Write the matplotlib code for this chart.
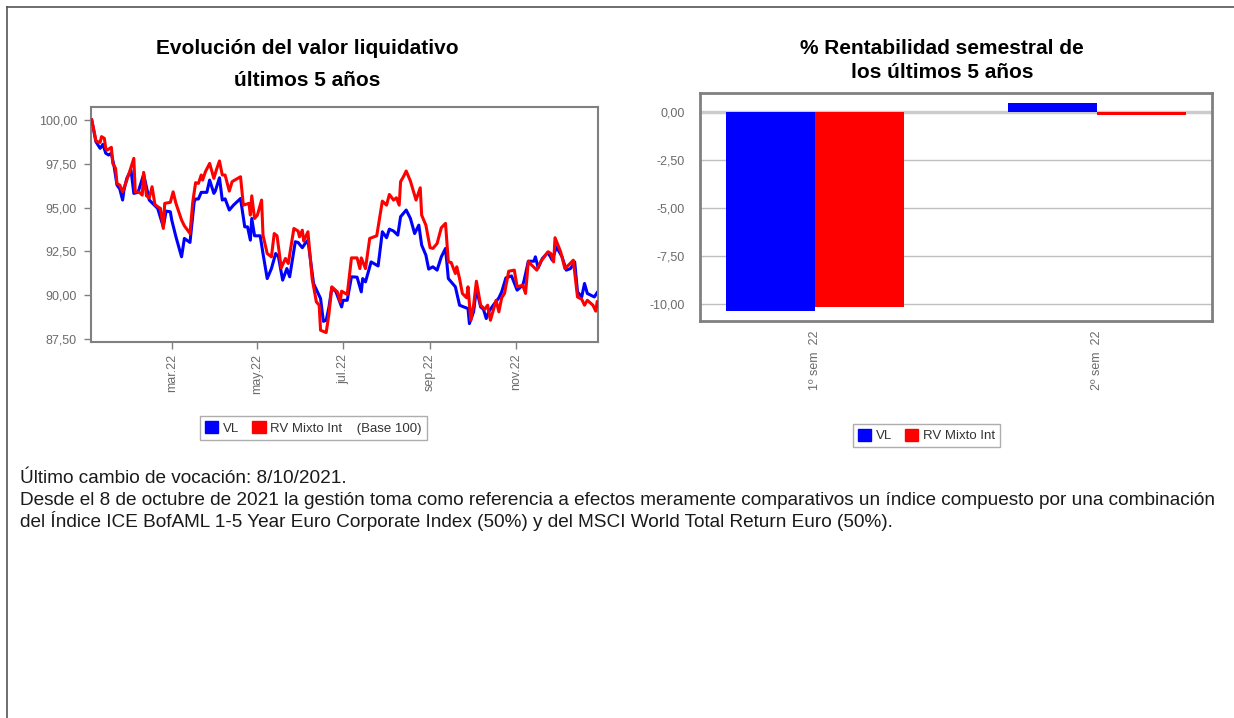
import matplotlib
matplotlib.use('Agg')
import matplotlib.pyplot as plt
from matplotlib.patches import Patch
import pandas as pd

plt.rcParams['font.family'] = ['Liberation Sans', 'DejaVu Sans']

# Evolución del valor liquidativo (base 100), días desde 1/1/2022
vl_days = [2, 5, 8, 10, 12, 14, 16, 18, 20, 22, 24, 25, 27, 30, 32, 35, 39, 43, 49, 53,
           55, 58, 59, 62, 64, 66, 68, 72, 75, 76, 78, 80, 84, 86, 89, 90, 93, 95, 97, 100,
           103, 108, 111, 113, 115, 116, 118, 122, 124, 127, 130, 133, 135, 138, 141, 143, 147, 149, 152, 154,
           156, 160, 165, 167, 169, 171, 173, 176, 180, 181, 184, 187, 191, 194, 195, 197, 201, 206, 209, 212,
           214, 217, 220, 222, 226, 229, 232, 235, 237, 240, 242, 245, 248, 251, 254, 256, 258, 261, 264, 267,
           270, 271, 274, 276, 279, 281, 283, 285, 288, 292, 294, 297, 301, 305, 309, 310, 313, 317, 318, 320,
           323, 327, 330, 333, 337, 340, 343, 346, 348, 351, 353, 355, 360, 362]
vl_vals = [100.0, 98.76, 98.38, 98.61, 98.1, 98.0, 98.1, 97.33, 96.29, 96.06, 95.43, 96.0, 96.67, 97.14, 95.81, 95.87, 96.9, 95.43, 94.95, 93.9,
           94.8, 94.76, 94.29, 93.33, 92.76, 92.19, 93.24, 93.01, 95.33, 95.49, 95.49, 95.87, 95.87, 96.57, 95.81, 95.94, 96.7, 95.43, 95.5, 94.86,
           95.14, 95.52, 93.9, 93.9, 93.14, 94.38, 93.39, 93.39, 92.38, 90.95, 91.52, 92.38, 92.19, 90.86, 91.52, 91.05, 93.05, 93.01, 92.71, 92.95,
           93.14, 90.67, 89.81, 88.51, 88.57, 89.33, 90.42, 90.19, 89.33, 89.71, 89.71, 91.05, 91.03, 90.19, 90.95, 90.76, 91.9, 91.67, 93.62, 93.28,
           93.77, 93.66, 93.43, 94.48, 94.86, 94.38, 93.52, 94.0, 92.86, 92.29, 91.49, 91.62, 91.43, 92.19, 92.67, 90.95, 90.76, 90.48, 89.43, 89.33,
           89.24, 88.38, 89.05, 90.38, 89.33, 89.2, 88.67, 89.09, 89.43, 89.85, 90.19, 90.99, 91.1, 90.29, 90.57, 90.86, 91.94, 91.94, 92.19, 91.56,
           92.1, 92.44, 92.0, 92.76, 92.19, 91.43, 91.52, 91.9, 90.19, 89.9, 90.67, 90.1, 89.9, 90.15]

rv_days = [2, 4, 5, 8, 9, 11, 12, 13, 16, 17, 19, 20, 22, 24, 27, 29, 32, 33, 36, 38,
           39, 41, 43, 45, 47, 49, 51, 53, 54, 58, 60, 62, 66, 68, 72, 74, 76, 78, 80, 81,
           83, 86, 89, 91, 93, 95, 97, 100, 102, 108, 110, 114, 115, 116, 118, 120, 123, 124, 127, 130,
           132, 134, 137, 140, 142, 146, 149, 150, 152, 153, 156, 159, 162, 164, 165, 169, 171, 173, 177, 179,
           180, 184, 187, 191, 193, 194, 197, 200, 205, 209, 212, 214, 217, 219, 221, 222, 224, 226, 229, 233,
           236, 237, 240, 243, 245, 248, 251, 254, 256, 258, 261, 262, 264, 266, 269, 270, 272, 274, 276, 279,
           282, 284, 286, 290, 292, 294, 296, 299, 303, 305, 309, 311, 313, 315, 319, 322, 327, 329, 331, 332,
           336, 339, 342, 345, 348, 351, 353, 355, 359, 361, 362]
rv_vals = [100.0, 99.24, 98.8, 98.72, 99.05, 98.95, 98.38, 98.28, 98.44, 97.52, 97.24, 96.38, 96.28, 95.9, 96.57, 97.05, 97.81, 95.9, 95.87, 95.71,
           97.01, 95.67, 95.56, 96.19, 95.18, 95.05, 94.95, 93.81, 95.24, 95.3, 95.9, 95.24, 94.29, 93.96, 93.52, 95.33, 96.42, 96.38, 96.86, 96.57,
           97.05, 97.52, 96.67, 97.2, 97.66, 96.86, 96.86, 95.94, 96.48, 96.76, 95.14, 95.24, 94.57, 95.67, 94.38, 94.57, 95.43, 93.43, 92.38, 92.19,
           93.52, 93.39, 91.56, 92.1, 91.81, 93.81, 93.66, 93.33, 93.71, 93.09, 93.62, 90.95, 89.62, 89.43, 88.0, 87.87, 88.95, 90.48, 90.19, 89.62,
           90.23, 90.04, 92.13, 92.13, 91.52, 92.13, 91.52, 93.24, 93.39, 95.37, 95.14, 95.75, 95.43, 95.56, 95.14, 96.48, 96.76, 97.09, 96.51, 95.43,
           96.13, 94.57, 94.0, 92.71, 92.67, 92.95, 93.85, 94.1, 91.9, 91.87, 91.24, 91.62, 90.95, 90.1, 89.85, 90.48, 88.57, 89.43, 90.8, 89.43,
           89.2, 89.43, 88.57, 89.71, 89.05, 89.85, 90.1, 91.37, 91.43, 90.48, 90.57, 90.1, 91.94, 91.75, 91.43, 91.94, 92.48, 92.38, 91.9, 93.28,
           92.48, 91.52, 91.75, 92.0, 89.9, 89.77, 89.43, 89.71, 89.43, 89.09, 89.62]

y_ticks_left = [87.5, 90.0, 92.5, 95.0, 97.5, 100.0]
month_ticks = ['2022-03-01', '2022-05-01', '2022-07-01', '2022-09-01', '2022-11-01']
month_labels = ['mar.22', 'may.22', 'jul.22', 'sep.22', 'nov.22']

# % Rentabilidad semestral
semesters = ['1º sem  22', '2º sem  22']
sem_vl = [-10.33, 0.50]
sem_rv = [-10.12, -0.12]
y_ticks_right = [0.0, -2.5, -5.0, -7.5, -10.0]

notes = [
    'Último cambio de vocación: 8/10/2021.',
    'Desde el 8 de octubre de 2021 la gestión toma como referencia a efectos meramente comparativos un índice compuesto por una combinación',
    'del Índice ICE BofAML 1-5 Year Euro Corporate Index (50%) y del MSCI World Total Return Euro (50%).',
]

BLUE = '#0000ff'
RED = '#ff0000'
GREY = '#808080'
LABEL = '#6b6b6b'

W, H = 1234, 718
fig = plt.figure(figsize=(W / 100, H / 100), dpi=100)


def fx(px):
    return px / W


def fy(py):
    return 1 - py / H


def fmt(v):
    return f'{v:.2f}'.replace('.', ',')


# outer frame (top and left)
fig.add_artist(plt.Line2D([fx(6.5), fx(6.5)], [0, fy(6.5)], color='#555555', lw=1.2))
fig.add_artist(plt.Line2D([fx(6.5), 1], [fy(6.5), fy(6.5)], color='#555555', lw=1.2))

# ---- left chart ----
start = pd.Timestamp('2022-01-01')
vl_dates = start + pd.to_timedelta(vl_days, unit='D')
rv_dates = start + pd.to_timedelta(rv_days, unit='D')

ax1 = fig.add_axes([fx(91), fy(342), fx(598 - 91), (342 - 107) / H])
ax1.plot(vl_dates, vl_vals, color=BLUE, lw=2.2, zorder=2)
ax1.plot(rv_dates, rv_vals, color=RED, lw=2.2, zorder=3)
ax1.set_xlim(start + pd.Timedelta(days=1.5), start + pd.Timedelta(days=362.6))
ax1.set_ylim(87.33, 100.74)
ax1.set_yticks(y_ticks_left)
ax1.set_yticklabels([fmt(v) for v in y_ticks_left])
ax1.set_xticks(pd.to_datetime(month_ticks))
ax1.set_xticklabels(month_labels, rotation=90)
for s in ax1.spines.values():
    s.set_color(GREY)
    s.set_linewidth(1.5)
ax1.tick_params(colors=GREY, labelcolor=LABEL, labelsize=9, length=5, width=1)
ax1.tick_params(axis='y', pad=5)

fig.text(fx(307), fy(48), 'Evolución del valor liquidativo', ha='center', va='center',
         fontsize=15, fontweight='bold')
fig.text(fx(307), fy(80), 'últimos 5 años', ha='center', va='center',
         fontsize=15, fontweight='bold')

leg1 = fig.legend([Patch(color=BLUE), Patch(color=RED)],
                  ['VL', 'RV Mixto Int    (Base 100)'], ncol=2, loc='center',
                  bbox_to_anchor=(fx(313.5), fy(428)), fontsize=9.5,
                  handlelength=1.0, handleheight=1.0, handletextpad=0.35, columnspacing=1.0,
                  fancybox=False, edgecolor='#999999', borderpad=0.4, borderaxespad=0)
leg1.get_frame().set_linewidth(1)
for t in leg1.get_texts():
    t.set_color('#333333')

# ---- right chart ----
ax2 = fig.add_axes([fx(700), fy(320.7), fx(1212 - 700), (320.7 - 92.7) / H])
pos = list(range(len(semesters)))
bw = 0.316
ax2.bar([p - bw / 2 for p in pos], sem_vl, width=bw, color=BLUE, zorder=3)
ax2.bar([p + bw / 2 for p in pos], sem_rv, width=bw, color=RED, zorder=3)
for v in y_ticks_right:
    if v == 0:
        ax2.axhline(v, color='#cccccc', lw=2.5, zorder=1)
    else:
        ax2.axhline(v, color='#c0c0c0', lw=1, zorder=1)
ax2.set_xlim(-0.41, 1.408)
ax2.set_ylim(-10.85, 1.02)
ax2.set_yticks(y_ticks_right)
ax2.set_yticklabels([fmt(v) for v in y_ticks_right])
ax2.set_xticks(pos)
ax2.set_xticklabels(semesters, rotation=90)
for s in ax2.spines.values():
    s.set_color(GREY)
    s.set_linewidth(2)
ax2.tick_params(axis='y', colors=GREY, labelcolor=LABEL, labelsize=9, length=0, pad=11)
ax2.tick_params(axis='x', colors=GREY, labelcolor=LABEL, labelsize=9, length=0, pad=7)

fig.text(fx(942), fy(48), '% Rentabilidad semestral de', ha='center', va='center',
         fontsize=15, fontweight='bold')
fig.text(fx(942), fy(73), 'los últimos 5 años', ha='center', va='center',
         fontsize=15, fontweight='bold')

leg2 = fig.legend([Patch(color=BLUE), Patch(color=RED)], ['VL', 'RV Mixto Int'], ncol=2,
                  loc='center', bbox_to_anchor=(fx(926.5), fy(435.5)), fontsize=9.5,
                  handlelength=1.0, handleheight=1.0, handletextpad=0.35, columnspacing=1.0,
                  fancybox=False, edgecolor='#999999', borderpad=0.4, borderaxespad=0)
leg2.get_frame().set_linewidth(1)
for t in leg2.get_texts():
    t.set_color('#333333')

# ---- footnote ----
# size the text so the long middle line runs to the right margin, as in the original
x_left, x_right = 20, 1225
renderer = fig.canvas.get_renderer()
probe = fig.text(0, 0, notes[1], fontsize=12)
w12 = probe.get_window_extent(renderer).width
probe.remove()
note_size = 12 * (x_right - x_left) / w12

for line, base in zip(notes, [483, 505, 527]):
    fig.text(fx(x_left), fy(base), line, va='baseline', fontsize=note_size, color='#1a1a1a')

fig.savefig('out.png', dpi=100)
